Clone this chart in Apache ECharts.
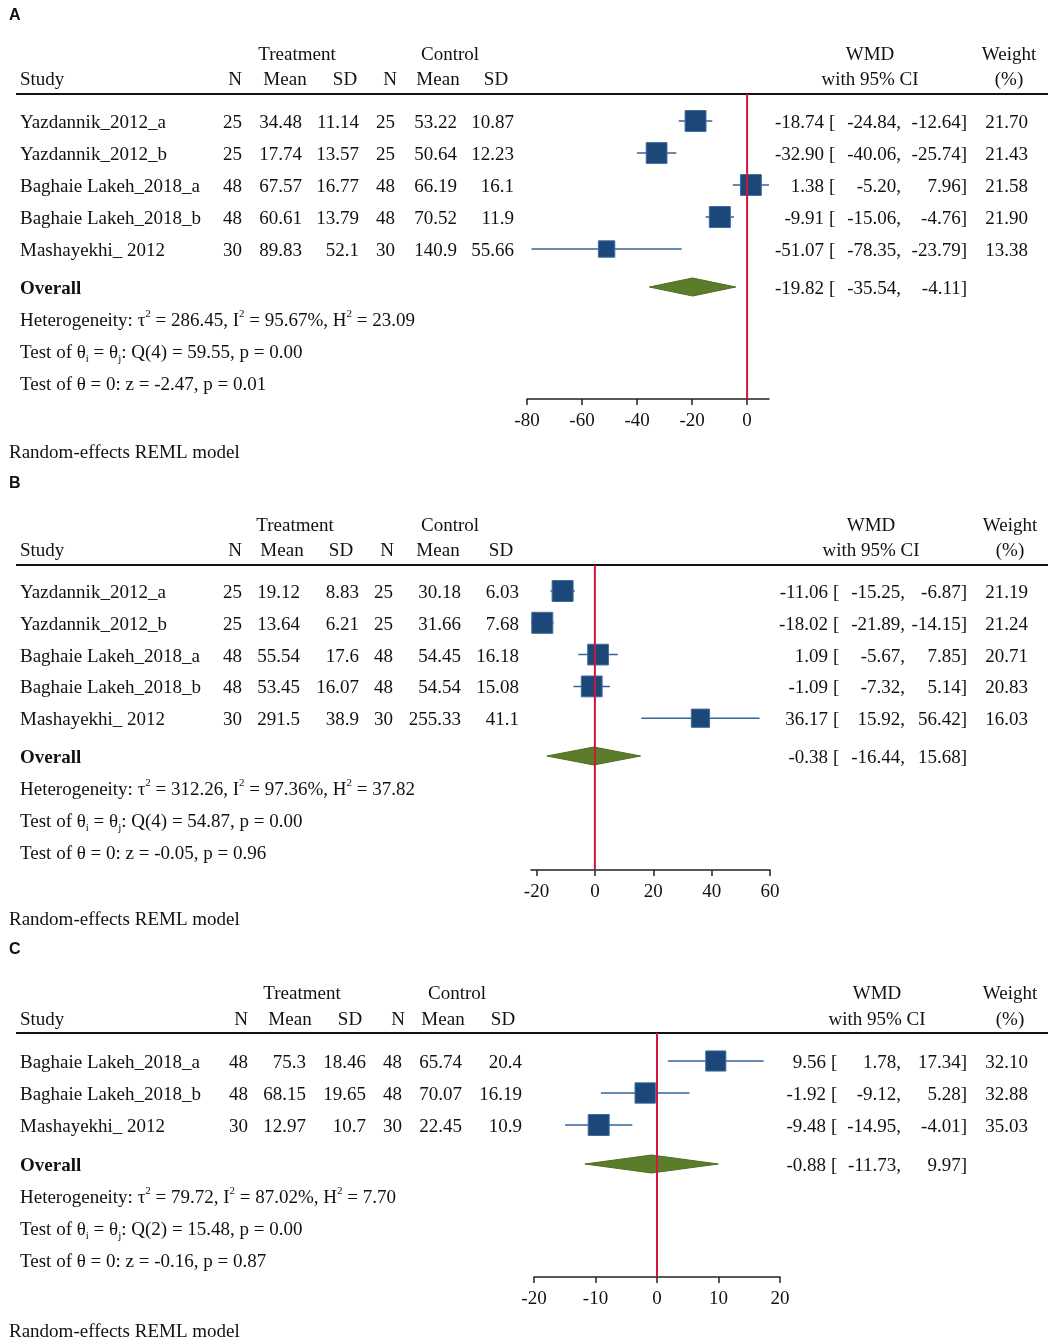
<!DOCTYPE html>
<html><head><meta charset="utf-8">
<script src="https://cdn.jsdelivr.net/npm/echarts@6/dist/echarts.min.js"></script>
<style>html,body{margin:0;padding:0;background:#fff}#main{width:1048px;height:1339px}</style>
</head><body><div id="main"></div>
<script>
// ---------- Panel A ----------
const studiesA = ['Yazdannik_2012_a', 'Yazdannik_2012_b', 'Baghaie Lakeh_2018_a', 'Baghaie Lakeh_2018_b', 'Mashayekhi_ 2012'];
const trtNA = [25, 25, 48, 48, 30];
const trtMeanA = [34.48, 17.74, 67.57, 60.61, 89.83];
const trtSDA = [11.14, 13.57, 16.77, 13.79, 52.1];
const ctlNA = [25, 25, 48, 48, 30];
const ctlMeanA = [53.22, 50.64, 66.19, 70.52, 140.9];
const ctlSDA = [10.87, 12.23, 16.1, 11.9, 55.66];
const wmdA = [-18.74, -32.90, 1.38, -9.91, -51.07];
const lowA = [-24.84, -40.06, -5.20, -15.06, -78.35];
const highA = [-12.64, -25.74, 7.96, -4.76, -23.79];
const weightA = [21.70, 21.43, 21.58, 21.90, 13.38];
const overallA = [-19.82, -35.54, -4.11];
const statsA = { tau2: '286.45', i2: '95.67%', h2: '23.09', df: 4, q: '59.55', pq: '0.00', z: '-2.47', pz: '0.01' };
const ticksA = [-80, -60, -40, -20, 0];

// ---------- Panel B ----------
const studiesB = ['Yazdannik_2012_a', 'Yazdannik_2012_b', 'Baghaie Lakeh_2018_a', 'Baghaie Lakeh_2018_b', 'Mashayekhi_ 2012'];
const trtNB = [25, 25, 48, 48, 30];
const trtMeanB = [19.12, 13.64, 55.54, 53.45, 291.5];
const trtSDB = [8.83, 6.21, 17.6, 16.07, 38.9];
const ctlNB = [25, 25, 48, 48, 30];
const ctlMeanB = [30.18, 31.66, 54.45, 54.54, 255.33];
const ctlSDB = [6.03, 7.68, 16.18, 15.08, 41.1];
const wmdB = [-11.06, -18.02, 1.09, -1.09, 36.17];
const lowB = [-15.25, -21.89, -5.67, -7.32, 15.92];
const highB = [-6.87, -14.15, 7.85, 5.14, 56.42];
const weightB = [21.19, 21.24, 20.71, 20.83, 16.03];
const overallB = [-0.38, -16.44, 15.68];
const statsB = { tau2: '312.26', i2: '97.36%', h2: '37.82', df: 4, q: '54.87', pq: '0.00', z: '-0.05', pz: '0.96' };
const ticksB = [-20, 0, 20, 40, 60];

// ---------- Panel C ----------
const studiesC = ['Baghaie Lakeh_2018_a', 'Baghaie Lakeh_2018_b', 'Mashayekhi_ 2012'];
const trtNC = [48, 48, 30];
const trtMeanC = [75.3, 68.15, 12.97];
const trtSDC = [18.46, 19.65, 10.7];
const ctlNC = [48, 48, 30];
const ctlMeanC = [65.74, 70.07, 22.45];
const ctlSDC = [20.4, 16.19, 10.9];
const wmdC = [9.56, -1.92, -9.48];
const lowC = [1.78, -9.12, -14.95];
const highC = [17.34, 5.28, -4.01];
const weightC = [32.10, 32.88, 35.03];
const overallC = [-0.88, -11.73, 9.97];
const statsC = { tau2: '79.72', i2: '87.02%', h2: '7.70', df: 2, q: '15.48', pq: '0.00', z: '-0.16', pz: '0.87' };
const ticksC = [-20, -10, 0, 10, 20];

// ---------- Layout (positions only) ----------
const layouts = {
  A: { labelY: 14, h1: 53, h2: 78, lineY: 94, row0: 121, step: 32, overallY: 287, statY: 319, axisY: 399, modelY: 451,
       gridLeft: 527, gridWidth: 242, treat: 297, ctrl: 450, hdrCols: [235, 285, 345, 390, 438, 496], wmdX: 870, wtX: 1009,
       colRight: [242, 302, 359, 395, 457, 514], E: 824, L: 901, U: 967, W: 1028 },
  B: { labelY: 482, h1: 524, h2: 549, lineY: 565, row0: 591, step: 31.8, overallY: 756, statY: 788, axisY: 870, modelY: 918,
       gridLeft: 531, gridWidth: 239, treat: 295, ctrl: 450, hdrCols: [235, 282, 341, 387, 438, 501], wmdX: 871, wtX: 1010,
       colRight: [242, 300, 359, 393, 461, 519], E: 828, L: 905, U: 967, W: 1028 },
  C: { labelY: 948, h1: 992, h2: 1018, lineY: 1033, row0: 1061, step: 32, overallY: 1164, statY: 1196, axisY: 1277, modelY: 1330,
       gridLeft: 534, gridWidth: 246, treat: 302, ctrl: 457, hdrCols: [241, 290, 350, 398, 443, 503], wmdX: 877, wtX: 1010,
       colRight: [248, 306, 366, 402, 462, 522], E: 826, L: 901, U: 967, W: 1028 }
};

const panels = [
  { key: 'A', studies: studiesA, cols: [trtNA, trtMeanA, trtSDA, ctlNA, ctlMeanA, ctlSDA], wmd: wmdA, low: lowA, high: highA, weight: weightA, overall: overallA, stats: statsA, ticks: ticksA },
  { key: 'B', studies: studiesB, cols: [trtNB, trtMeanB, trtSDB, ctlNB, ctlMeanB, ctlSDB], wmd: wmdB, low: lowB, high: highB, weight: weightB, overall: overallB, stats: statsB, ticks: ticksB },
  { key: 'C', studies: studiesC, cols: [trtNC, trtMeanC, trtSDC, ctlNC, ctlMeanC, ctlSDC], wmd: wmdC, low: lowC, high: highC, weight: weightC, overall: overallC, stats: statsC, ticks: ticksC }
];

const SERIF = '"Liberation Serif", "Times New Roman", serif';
const FONT = '19px ' + SERIF;
const BOLD = 'bold 19px ' + SERIF;
const INK = '#111111';
const SQUARE = '#1b4779';
const CI_COL = '#33649a';
const DIAMOND = '#5b7d2b';
const REDLINE = '#d3143f';
const TEXT_DY = 2;

const graphics = [];
function txt(x, y, text, align, font, rich) {
  const st = { text: String(text), x: x, y: y + TEXT_DY, font: font || FONT, fill: INK,
    align: align || 'left', verticalAlign: 'middle', textAlign: align || 'left', textVerticalAlign: 'middle' };
  if (rich) st.rich = rich;
  graphics.push({ type: 'text', silent: true, style: st });
}
const supSub = {
  sup: { fontSize: 11, fontFamily: SERIF, fill: INK, verticalAlign: 'top', lineHeight: 11 },
  sub: { fontSize: 11, fontFamily: SERIF, fill: INK, verticalAlign: 'bottom', lineHeight: 11 },
  n: { fontSize: 19, fontFamily: SERIF, fill: INK, lineHeight: 24 }
};

const grids = [], xAxes = [], yAxes = [], series = [];

panels.forEach((p, pi) => {
  const L = layouts[p.key];
  // panel letter
  txt(9, L.labelY, p.key, 'left', 'bold 16px "Liberation Sans", Arial, sans-serif');
  // headers
  txt(L.treat, L.h1, 'Treatment', 'center');
  txt(L.ctrl, L.h1, 'Control', 'center');
  txt(L.wmdX, L.h1, 'WMD', 'center');
  txt(L.wtX, L.h1, 'Weight', 'center');
  txt(20, L.h2, 'Study', 'left');
  ['N', 'Mean', 'SD', 'N', 'Mean', 'SD'].forEach((h, i) => txt(L.hdrCols[i], L.h2, h, 'center'));
  txt(L.wmdX, L.h2, 'with 95% CI', 'center');
  txt(L.wtX, L.h2, '(%)', 'center');
  graphics.push({ type: 'line', silent: true, shape: { x1: 16, y1: L.lineY, x2: 1048, y2: L.lineY }, style: { stroke: INK, lineWidth: 2 } });

  // study rows
  p.studies.forEach((s, i) => {
    const y = L.row0 + i * L.step;
    txt(20, y, s, 'left');
    p.cols.forEach((col, c) => txt(L.colRight[c], y, String(col[i]), 'right'));
    txt(L.E, y, p.wmd[i].toFixed(2), 'right');
    txt(L.E + 5, y, '[', 'left');
    txt(L.L, y, p.low[i].toFixed(2) + ',', 'right');
    txt(L.U, y, p.high[i].toFixed(2) + ']', 'right');
    txt(L.W, y, p.weight[i].toFixed(2), 'right');
  });
  // overall row
  txt(20, L.overallY, 'Overall', 'left', BOLD);
  txt(L.E, L.overallY, p.overall[0].toFixed(2), 'right');
  txt(L.E + 5, L.overallY, '[', 'left');
  txt(L.L, L.overallY, p.overall[1].toFixed(2) + ',', 'right');
  txt(L.U, L.overallY, p.overall[2].toFixed(2) + ']', 'right');
  // stats
  const S = p.stats;
  txt(20, L.statY, '{n|Heterogeneity: τ}{sup|2}{n| = ' + S.tau2 + ', I}{sup|2}{n| = ' + S.i2 + ', H}{sup|2}{n| = ' + S.h2 + '}', 'left', FONT, supSub);
  txt(20, L.statY + 32, '{n|Test of θ}{sub|i}{n| = θ}{sub|j}{n|: Q(' + S.df + ') = ' + S.q + ', p = ' + S.pq + '}', 'left', FONT, supSub);
  txt(20, L.statY + 64, 'Test of θ = 0: z = ' + S.z + ', p = ' + S.pz, 'left');
  txt(9, L.modelY, 'Random-effects REML model', 'left');

  // forest plot
  const xmin = Math.min(p.ticks[0], Math.min.apply(null, p.low));
  const xmax = Math.max(p.ticks[p.ticks.length - 1], Math.max.apply(null, p.high));
  const yMax = (L.axisY - L.lineY) / L.step;
  const firstRow = (L.row0 - L.lineY) / L.step;
  const overallRow = (L.overallY - L.lineY) / L.step;
  const maxW = Math.max.apply(null, p.weight);

  grids.push({ left: L.gridLeft, top: L.lineY, width: L.gridWidth, height: L.axisY - L.lineY, containLabel: false });
  xAxes.push({
    type: 'value', gridIndex: pi, min: xmin, max: xmax, position: 'bottom',
    axisLine: { show: true, onZero: false, lineStyle: { color: '#222', width: 1.5 } },
    axisTick: { show: true, customValues: p.ticks, length: 6, lineStyle: { color: '#222', width: 1.5 } },
    axisLabel: { show: true, customValues: p.ticks, fontFamily: SERIF, fontSize: 19, color: INK, margin: 13 },
    splitLine: { show: false }
  });
  yAxes.push({ type: 'value', gridIndex: pi, min: 0, max: yMax, inverse: true, show: false });

  const studyData = p.wmd.map((v, i) => [v, p.low[i], p.high[i], p.weight[i], firstRow + i]);
  series.push({
    type: 'custom', xAxisIndex: pi, yAxisIndex: pi, silent: true, z: 2, clip: false,
    data: studyData,
    renderItem: function (params, api) {
      const e = api.coord([api.value(0), api.value(4)]);
      const lo = api.coord([api.value(1), api.value(4)]);
      const hi = api.coord([api.value(2), api.value(4)]);
      const s = 21 * Math.sqrt(api.value(3) / maxW);
      return { type: 'group', children: [
        { type: 'line', shape: { x1: lo[0], y1: lo[1], x2: hi[0], y2: hi[1] }, style: { stroke: CI_COL, lineWidth: 1.5 } },
        { type: 'rect', shape: { x: e[0] - s / 2, y: e[1] - s / 2, width: s, height: s }, style: { fill: SQUARE, stroke: '#3f6d9c', lineWidth: 1 } }
      ] };
    }
  });
  series.push({
    type: 'custom', xAxisIndex: pi, yAxisIndex: pi, silent: true, z: 2, clip: false,
    data: [[p.overall[0], p.overall[1], p.overall[2], overallRow]],
    renderItem: function (params, api) {
      const r = api.value(3);
      const e = api.coord([api.value(0), r]);
      const lo = api.coord([api.value(1), r]);
      const hi = api.coord([api.value(2), r]);
      const h = 9;
      return { type: 'polygon', shape: { points: [[lo[0], lo[1]], [e[0], e[1] - h], [hi[0], hi[1]], [e[0], e[1] + h]] },
        style: { fill: DIAMOND, stroke: '#4e6d22', lineWidth: 1 } };
    }
  });
  series.push({
    type: 'custom', xAxisIndex: pi, yAxisIndex: pi, silent: true, z: 5, clip: false,
    data: [[0]],
    renderItem: function (params, api) {
      const a = api.coord([api.value(0), 0]);
      const b = api.coord([api.value(0), yMax]);
      return { type: 'line', shape: { x1: a[0], y1: a[1], x2: b[0], y2: b[1] }, style: { stroke: REDLINE, lineWidth: 2 } };
    }
  });
});

const chart = echarts.init(document.getElementById('main'), null, { renderer: 'canvas' });
chart.setOption({
  animation: false,
  backgroundColor: '#ffffff',
  grid: grids,
  xAxis: xAxes,
  yAxis: yAxes,
  series: series,
  graphic: { elements: graphics }
});
</script>
</body></html>
